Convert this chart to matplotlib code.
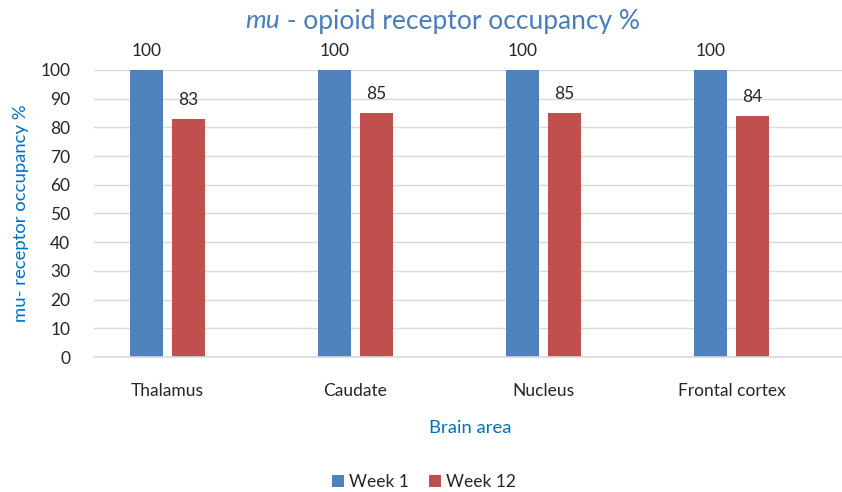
import matplotlib
matplotlib.use("Agg")
import matplotlib.pyplot as plt
import numpy as np

categories = ["Thalamus", "Caudate", "Nucleus", "Frontal cortex"]
week1 = [100, 100, 100, 100]
week12 = [83, 85, 85, 84]
series_names = ["Week 1", "Week 12"]
yticks = [0, 10, 20, 30, 40, 50, 60, 70, 80, 90, 100]

plt.rcParams['font.family'] = ['Lato', 'DejaVu Sans']

W, H = 842, 492
fig = plt.figure(figsize=(W/100, H/100), dpi=100)
ax = fig.add_axes([94/W, (H-357)/H, (842-94)/W, (357-70)/H])

x = np.arange(len(categories))
bw = 33/188
off = 21/188
c1, c2 = "#4F81BD", "#C0504D"
b1 = ax.bar(x - off, week1, bw, color=c1, label=series_names[0], zorder=3)
b2 = ax.bar(x + off, week12, bw, color=c2, label=series_names[1], zorder=3)

for bars in (b1, b2):
    for r in bars:
        ax.annotate(f"{r.get_height():.0f}", (r.get_x() + r.get_width()/2, r.get_height()),
                    xytext=(0, 8), textcoords="offset points", ha="center", va="bottom",
                    fontsize=12.5, color="#262626")

ax.set_xlim(-73.5/188, (842-167.5)/188)
ax.set_ylim(0, 100)
ax.set_yticks(yticks)
ax.set_xticks(x)
ax.set_xticklabels(categories)
ax.tick_params(axis='both', length=0, labelsize=12.5, colors="#262626")
ax.tick_params(axis='y', pad=17)
ax.tick_params(axis='x', pad=19)
ax.yaxis.grid(True, color="#D9D9D9", linewidth=1, zorder=0)
for s in ["top", "right", "left"]:
    ax.spines[s].set_visible(False)
ax.spines["bottom"].set_color("#D9D9D9")
ax.spines["bottom"].set_linewidth(1.2)
ax.spines["bottom"].set_zorder(4)

title_y = 1 - 21/H
t1 = fig.text(0, title_y, "mu", fontsize=19, color="#4A7EBB", style="italic", va="center", ha="left")
t2 = fig.text(0, title_y, " - opioid receptor occupancy %", fontsize=19, color="#4A7EBB", va="center", ha="left")
fig.canvas.draw()
r = fig.canvas.get_renderer()
w1 = t1.get_window_extent(r).width
w2 = t2.get_window_extent(r).width
start = 443 - (w1 + w2)/2
t1.set_x(start/W)
t2.set_x((start + w1)/W)

fig.text(21/W, (H-213)/H, "mu- receptor occupancy %", rotation=90, ha="center", va="center",
         fontsize=13.3, color="#0070C0")
fig.text(470/W, (H-428)/H, "Brain area", ha="center", va="center", fontsize=13.3, color="#0070C0")

leg = fig.legend(handles=[b1, b2], labels=series_names, loc="center", bbox_to_anchor=(424/W, (H-482)/H),
                 ncol=2, frameon=False, fontsize=12.5, handlelength=0.65, handleheight=0.65,
                 handletextpad=0.3, columnspacing=1.2)
for t in leg.get_texts():
    t.set_color("#262626")

fig.savefig("out.png", dpi=100)
